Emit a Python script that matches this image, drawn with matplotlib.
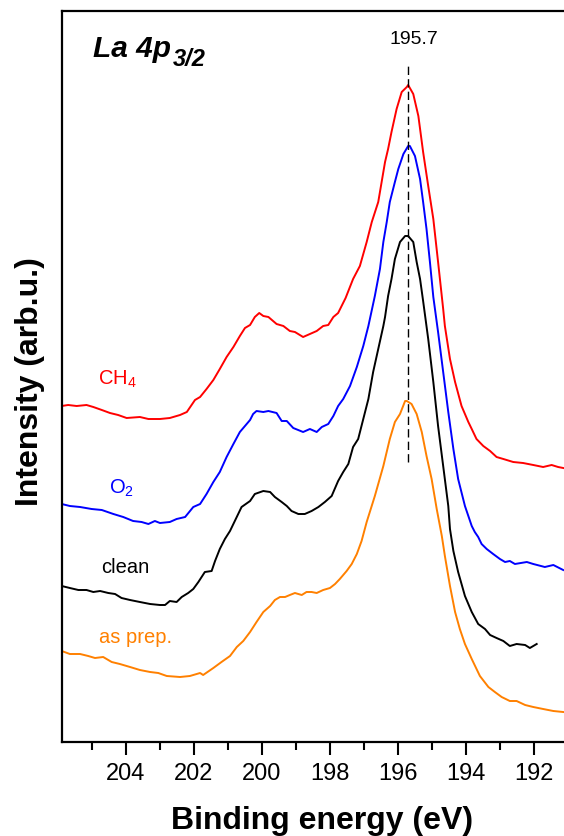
import matplotlib
matplotlib.use('Agg')
import matplotlib.pyplot as plt
from matplotlib.ticker import MultipleLocator

# ---------------- data (binding energy in eV, intensity in arb. units) ----------------
ch4_be = [205.89, 205.70, 205.45, 205.16, 204.96, 204.71, 204.47, 204.23, 203.98, 203.59,
          203.34, 203.00, 202.71, 202.41, 202.21, 201.97, 201.82, 201.63, 201.43, 201.24,
          201.04, 200.84, 200.65, 200.50, 200.35, 200.21, 200.08, 199.96, 199.81, 199.57,
          199.37, 199.18, 199.03, 198.79, 198.59, 198.39, 198.20, 198.05, 197.90, 197.76,
          197.54, 197.32, 197.12, 196.92, 196.77, 196.58, 196.48, 196.38, 196.29, 196.19,
          196.04, 195.89, 195.74, 195.70, 195.55, 195.40, 195.26, 195.11, 194.96, 194.82,
          194.67, 194.62, 194.47, 194.32, 194.13, 193.93, 193.83, 193.69, 193.49, 193.29,
          193.10, 192.90, 192.61, 192.32, 192.02, 191.73, 191.48, 191.29, 191.14]
ch4_int = [363, 364, 363, 364, 362, 359, 356, 354, 351, 352,
           350, 350, 351, 354, 357, 369, 372, 380, 389, 400,
           412, 422, 433, 441, 444, 452, 456, 453, 452, 445,
           443, 438, 437, 432, 435, 438, 443, 444, 452, 456,
           471, 490, 503, 527, 547, 567, 587, 607, 620, 637,
           660, 677, 682, 684, 675, 653, 617, 583, 550, 507,
           460, 443, 410, 387, 363, 347, 340, 330, 323, 318,
           312, 310, 307, 306, 304, 302, 304, 302, 301]

o2_be = [205.89, 205.65, 205.35, 205.01, 204.71, 204.37, 204.08, 203.79, 203.54, 203.34,
         203.15, 203.00, 202.71, 202.51, 202.26, 202.02, 201.82, 201.63, 201.43, 201.24,
         201.04, 200.84, 200.65, 200.45, 200.35, 200.26, 200.16, 199.96, 199.81, 199.57,
         199.42, 199.27, 199.08, 198.79, 198.59, 198.39, 198.24, 198.05, 197.90, 197.76,
         197.61, 197.41, 197.21, 197.02, 196.87, 196.68, 196.53, 196.43, 196.33, 196.24,
         196.09, 195.99, 195.84, 195.70, 195.65, 195.50, 195.35, 195.26, 195.16, 195.06,
         194.96, 194.82, 194.67, 194.52, 194.37, 194.23, 194.03, 193.83, 193.74, 193.64,
         193.54, 193.39, 193.20, 193.00, 192.85, 192.71, 192.56, 192.21, 192.02, 191.68,
         191.43, 191.14]
o2_int = [265, 263, 262, 260, 259, 255, 252, 248, 247, 245,
          248, 246, 247, 250, 252, 262, 265, 275, 287, 297,
          312, 325, 337, 345, 349, 355, 358, 357, 358, 356,
          348, 348, 341, 337, 340, 337, 342, 345, 353, 363,
          370, 383, 402, 423, 443, 473, 500, 527, 547, 567,
          587, 600, 615, 623, 623, 613, 590, 567, 540, 507,
          472, 437, 397, 357, 320, 290, 263, 243, 237, 232,
          225, 220, 215, 210, 207, 208, 205, 207, 205, 202,
          204, 199]

clean_be = [205.89, 205.65, 205.40, 205.16, 204.96, 204.76, 204.52, 204.32, 204.13, 203.88,
            203.59, 203.29, 203.00, 202.85, 202.71, 202.51, 202.36, 202.17, 202.02, 201.87,
            201.68, 201.48, 201.38, 201.24, 201.09, 200.94, 200.60, 200.35, 200.21, 199.96,
            199.76, 199.62, 199.42, 199.27, 199.13, 198.93, 198.74, 198.54, 198.34, 198.15,
            197.95, 197.76, 197.61, 197.46, 197.32, 197.17, 197.02, 196.87, 196.73, 196.58,
            196.43, 196.38, 196.29, 196.19, 196.09, 195.94, 195.79, 195.70, 195.55, 195.45,
            195.35, 195.26, 195.11, 194.96, 194.82, 194.67, 194.52, 194.47, 194.37, 194.23,
            194.03, 193.83, 193.64, 193.44, 193.29, 193.10, 192.90, 192.71, 192.51, 192.26,
            192.12, 191.92]
clean_int = [183, 181, 179, 179, 177, 178, 176, 175, 171, 169,
             167, 165, 164, 164, 168, 167, 172, 176, 180, 187,
             197, 198, 208, 220, 230, 238, 262, 268, 275, 278,
             277, 272, 267, 263, 258, 255, 255, 258, 262, 267,
             273, 288, 297, 305, 322, 330, 350, 370, 397, 420,
             443, 452, 473, 490, 510, 527, 533, 533, 527, 507,
             490, 468, 430, 387, 343, 303, 263, 240, 218, 197,
             173, 157, 145, 140, 134, 131, 128, 123, 125, 124,
             121, 125]

prep_be = [205.89, 205.65, 205.35, 205.11, 204.91, 204.67, 204.42, 204.18, 203.88, 203.59,
           203.29, 203.05, 202.80, 202.41, 202.12, 201.82, 201.73, 201.43, 201.19, 200.94,
           200.74, 200.55, 200.35, 200.16, 199.96, 199.76, 199.62, 199.47, 199.32, 199.18,
           199.03, 198.83, 198.69, 198.54, 198.39, 198.20, 198.00, 197.85, 197.71, 197.51,
           197.36, 197.21, 197.07, 196.92, 196.68, 196.43, 196.24, 196.09, 195.94, 195.79,
           195.74, 195.60, 195.45, 195.30, 195.16, 195.01, 194.86, 194.71, 194.62, 194.47,
           194.32, 194.18, 194.03, 193.83, 193.59, 193.34, 193.15, 192.95, 192.71, 192.51,
           192.26, 192.02, 191.73, 191.43, 191.14]
prep_int = [118, 115, 115, 113, 111, 112, 107, 105, 102, 99,
            97, 96, 93, 92, 93, 96, 94, 101, 107, 113,
            122, 128, 137, 147, 157, 163, 169, 172, 172, 174,
            176, 174, 177, 177, 176, 179, 181, 185, 190, 198,
            205, 215, 228, 247, 273, 303, 330, 347, 355, 368,
            368, 365, 355, 337, 313, 290, 260, 233, 213, 183,
            157, 140, 125, 110, 93, 82, 77, 72, 68, 68,
            64, 62, 60, 58, 57]

series_labels = ['CH$_4$', 'O$_2$', 'clean', 'as prep.']
series_colors = ['#ff0000', '#0000ff', '#000000', '#ff8000']
peak_be = 195.7
peak_label = '195.7'
xticks_major = [204, 202, 200, 198, 196, 194, 192]

# ---------------- figure ----------------
W, H = 564, 837
plt.rcParams['font.family'] = ['Liberation Sans', 'DejaVu Sans']
plt.rcParams['mathtext.fontset'] = 'custom'
plt.rcParams['mathtext.rm'] = 'Liberation Sans'
plt.rcParams['mathtext.it'] = 'Liberation Sans:italic'
plt.rcParams['mathtext.bf'] = 'Liberation Sans:bold'

fig = plt.figure(figsize=(W / 100, H / 100), dpi=100)

def fx(px):
    return px / W

def fy(py):
    return 1 - py / H

xl, xr = 205.89, 191.0
px_per_ev = 34.0
ax_left, ax_top, ax_bot = 61.7, 11.7, 742.5
ax = fig.add_axes([fx(ax_left), fy(ax_bot), (xl - xr) * px_per_ev / W, (ax_bot - ax_top) / H])

curves = [(ch4_be, ch4_int), (o2_be, o2_int), (clean_be, clean_int), (prep_be, prep_int)]
for (be, it), c in zip(curves, series_colors):
    ax.plot(be, it, color=c, lw=1.4, solid_joinstyle='round')

ax.set_xlim(xl, xr)
ax.set_ylim(27.5, 758.3)
ax.vlines(peak_be, 307, 704, colors='black', linestyles=(0, (6, 3)), lw=1.0)

ax.set_yticks([])
ax.set_xticks(xticks_major)
ax.xaxis.set_minor_locator(MultipleLocator(1))
ax.tick_params(axis='x', which='major', direction='out', length=9, width=1.5,
               labelsize=17, pad=6)
ax.tick_params(axis='x', which='minor', direction='out', length=5.5, width=1.5)
for s in ax.spines.values():
    s.set_linewidth(1.6)

# axis labels
fig.text(fx(322.5), fy(829), 'Binding energy (eV)', fontsize=23, fontweight='bold',
         ha='center', va='baseline')
fig.text(fx(30), fy(382), 'Intensity (arb.u.)', fontsize=23, fontweight='bold',
         ha='center', va='center', rotation=90)

# title
t = fig.text(fx(93.3), fy(57), 'La 4p', fontsize=21.5, fontweight='bold',
             fontstyle='italic', ha='left', va='baseline')
fig.canvas.draw()
bb = t.get_window_extent()
fig.text(bb.x1 / W + fx(1.5), fy(66), '3/2', fontsize=17, fontweight='bold',
         fontstyle='italic', ha='left', va='baseline')

# peak label
fig.text(fx(414), fy(39), peak_label, fontsize=14, ha='center', va='center')

# series labels
label_pos = [(97.7, 385), (109.3, 494), (100.7, 572.7), (99.3, 643)]
for lab, c, (px, py) in zip(series_labels, series_colors, label_pos):
    fig.text(fx(px), fy(py), lab, fontsize=14.5, color=c, ha='left', va='baseline')

fig.savefig('out.png', dpi=100)
